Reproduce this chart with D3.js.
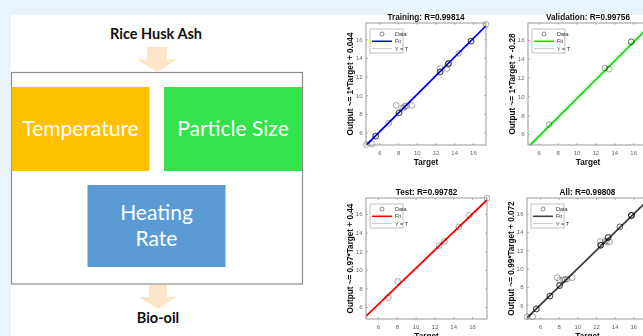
<!DOCTYPE html>
<html>
<head>
<meta charset="utf-8">
<script src="https://cdn.jsdelivr.net/npm/d3@7"></script>
<style>
  html, body { margin: 0; padding: 0; background: #e9f4fc; }
  svg { display: block; }
</style>
</head>
<body>
<svg id="chart" width="643" height="336"></svg>
<script>
// ---- Flow diagram content ----
const sourceLabel = "Rice Husk Ash";
const productLabel = "Bio-oil";
const factorLabels = [["Temperature"], ["Particle Size"], ["Heating", "Rate"]];

// ---- Regression panels ----
const panelNames = ["Training", "Validation", "Test", "All"];
const rValues = ["0.99814", "0.99756", "0.99782", "0.99808"];
const fitSlopes = [1, 1, 0.97, 0.99];
const fitIntercepts = [0.044, -0.28, 0.44, 0.072];
const tickValues = [6, 8, 10, 12, 14, 16];
const legendLabels = ["Data", "Fit", "Y = T"];

const trainingTargets = [4.6, 5.2, 5.6, 5.6, 5.6, 7.0, 7.8, 8.1, 8.1, 8.1, 8.5, 8.7, 8.9, 9.45, 12.5, 12.5, 12.5, 12.5, 13.2, 13.3, 13.4, 13.4, 13.4, 14.5, 15.8, 15.8, 15.8, 17.4];
const trainingOutputs = [4.7, 4.75, 5.6, 5.6, 5.6, 7.0, 8.9, 8.1, 8.1, 8.1, 8.6, 8.8, 8.85, 8.9, 12.85, 12.5, 12.5, 12.5, 12.85, 13.3, 13.4, 13.4, 13.4, 14.5, 15.8, 15.8, 15.8, 17.6];

const validationTargets = [7.1, 13.0, 13.45, 15.8, 15.8];
const validationOutputs = [7.0, 13.0, 12.9, 15.8, 15.8];

const testTargets = [7.1, 8.1, 12.5, 13.05, 14.6, 15.7, 17.6];
const testOutputs = [7.0, 8.75, 12.6, 13.05, 14.6, 15.85, 17.7];

const allTargets = [4.6, 5.2, 5.6, 5.6, 5.6, 7.05, 7.05, 7.05, 7.85, 8.1, 8.1, 8.1, 8.1, 8.5, 8.7, 8.9, 9.45, 12.45, 12.5, 12.5, 12.5, 12.5, 13.0, 13.15, 13.3, 13.3, 13.3, 13.45, 14.55, 14.55, 15.8, 15.8, 15.8, 15.8, 15.8];
const allOutputs = [4.75, 4.75, 5.6, 5.6, 5.6, 7.0, 7.0, 7.0, 9.0, 8.15, 8.15, 8.15, 8.75, 8.8, 8.8, 8.85, 9.0, 12.95, 12.55, 12.55, 12.55, 12.55, 13.0, 12.95, 13.4, 13.4, 13.4, 12.9, 14.55, 14.55, 15.8, 15.8, 15.8, 15.8, 15.8];

const panelTargets = [trainingTargets, validationTargets, testTargets, allTargets];
const panelOutputs = [trainingOutputs, validationOutputs, testOutputs, allOutputs];

// Axis ranges of each regression panel
const panelXDomains = [[4.57, 17.4], [4.87, 17.57], [4.72, 17.6], [4.6, 17.57]];
const panelYDomains = [[4.65, 17.75], [4.83, 17.8], [4.71, 17.72], [4.5, 17.7]];

// ---- Layout & style ----
const panelFrames = [
  { x: 366, y: 23, w: 120, h: 122 },
  { x: 528, y: 23, w: 120, h: 122 },
  { x: 366, y: 198, w: 121, h: 121 },
  { x: 527, y: 198, w: 121, h: 121 }
];
const fitColors = ["#0000ff", "#00e600", "#ff0000", "#404040"];
const factorColors = ["#ffc000", "#33e34b", "#5b9bd5"];
const factorBoxes = [
  { x: 11.5, y: 87, w: 138, h: 84, lines: [136] },
  { x: 164, y: 87, w: 138, h: 84, lines: [136] },
  { x: 87.5, y: 185, w: 138, h: 82, lines: [220, 246] }
];
const arrowColor = "#fde5c9";
const mFont = "'Liberation Sans', Arial, sans-serif";
const dFont = "Lato, 'Open Sans', sans-serif";

const svg = d3.select("#chart");
const defs = svg.append("defs");
defs.append("filter").attr("id", "soft")
  .append("feGaussianBlur").attr("stdDeviation", 0.3);

// white page area
svg.append("rect").attr("x", 11).attr("y", 15).attr("width", 632).attr("height", 321).attr("fill", "#ffffff");

// ---- Flow diagram ----
const diagram = svg.append("g");
diagram.append("rect")
  .attr("x", 11.5).attr("y", 72.5).attr("width", 291).attr("height", 211.5)
  .attr("fill", "#ffffff").attr("stroke", "#8c8c8c").attr("stroke-width", 1.2);

diagram.selectAll("rect.factor")
  .data(factorLabels)
  .join("rect")
  .attr("class", "factor")
  .attr("x", (d, i) => factorBoxes[i].x)
  .attr("y", (d, i) => factorBoxes[i].y)
  .attr("width", (d, i) => factorBoxes[i].w)
  .attr("height", (d, i) => factorBoxes[i].h)
  .attr("fill", (d, i) => factorColors[i]);

factorLabels.forEach((lines, i) => {
  const b = factorBoxes[i];
  lines.forEach((t, j) => {
    diagram.append("text")
      .attr("x", b.x + b.w / 2)
      .attr("y", b.lines[j])
      .attr("text-anchor", "middle")
      .attr("fill", "#ffffff")
      .attr("font-family", dFont)
      .attr("font-size", 21)
      .text(t);
  });
});

function downArrow(cx, top, shaftW, shaftH, headW, headH) {
  const p = d3.path();
  p.moveTo(cx - shaftW / 2, top);
  p.lineTo(cx + shaftW / 2, top);
  p.lineTo(cx + shaftW / 2, top + shaftH);
  p.lineTo(cx + headW / 2, top + shaftH);
  p.lineTo(cx, top + shaftH + headH);
  p.lineTo(cx - headW / 2, top + shaftH);
  p.lineTo(cx - shaftW / 2, top + shaftH);
  p.closePath();
  return p.toString();
}
diagram.append("path").attr("d", downArrow(157, 47, 20, 12.5, 40, 12.5)).attr("fill", arrowColor);
diagram.append("path").attr("d", downArrow(158, 285, 18, 12, 38, 12)).attr("fill", arrowColor);

diagram.append("text")
  .attr("x", 156).attr("y", 39)
  .attr("text-anchor", "middle")
  .attr("font-family", dFont).attr("font-weight", "bold").attr("font-size", 14.5)
  .attr("fill", "#111").text(sourceLabel);
diagram.append("text")
  .attr("x", 158).attr("y", 323)
  .attr("text-anchor", "middle")
  .attr("font-family", dFont).attr("font-weight", "bold").attr("font-size", 14.5)
  .attr("fill", "#111").text(productLabel);

// ---- Regression panels ----
panelNames.forEach((name, i) => {
  const f = panelFrames[i];
  const x = d3.scaleLinear().domain(panelXDomains[i]).range([0, f.w]);
  const y = d3.scaleLinear().domain(panelYDomains[i]).range([f.h, 0]);
  const g = svg.append("g").attr("transform", `translate(${f.x},${f.y})`).attr("filter", "url(#soft)");

  defs.append("clipPath").attr("id", "clip" + i)
    .append("rect").attr("width", f.w).attr("height", f.h);

  g.append("rect").attr("width", f.w).attr("height", f.h).attr("fill", "#ffffff");

  // axes with inward ticks on all four sides
  const tickStyle = sel => {
    sel.select(".domain").remove();
    sel.selectAll(".tick line").attr("stroke", "#8c8c8c").attr("stroke-width", 0.7);
    sel.selectAll(".tick text").attr("fill", "#666").attr("font-family", mFont).attr("font-size", 6);
  };
  g.append("g").attr("transform", `translate(0,${f.h})`)
    .call(d3.axisBottom(x).tickValues(tickValues).tickSizeInner(-1.8).tickSizeOuter(0).tickPadding(5.7))
    .call(tickStyle);
  g.append("g")
    .call(d3.axisLeft(y).tickValues(tickValues).tickSizeInner(-1.8).tickSizeOuter(0).tickPadding(3.5))
    .call(tickStyle);
  g.append("g")
    .call(d3.axisTop(x).tickValues(tickValues).tickSizeInner(-1.8).tickSizeOuter(0).tickFormat(""))
    .call(tickStyle);
  g.append("g").attr("transform", `translate(${f.w},0)`)
    .call(d3.axisRight(y).tickValues(tickValues).tickSizeInner(-1.8).tickSizeOuter(0).tickFormat(""))
    .call(tickStyle);

  const xd = panelXDomains[i];
  const lines = g.append("g").attr("clip-path", `url(#clip${i})`);
  // Y = T reference
  lines.append("line")
    .attr("x1", x(xd[0])).attr("y1", y(xd[0]))
    .attr("x2", x(xd[1])).attr("y2", y(xd[1]))
    .attr("stroke", "#aaa").attr("stroke-width", 0.7).attr("stroke-dasharray", "1,1");
  // fitted line
  const fit = t => fitSlopes[i] * t + fitIntercepts[i];
  lines.append("line")
    .attr("x1", x(xd[0])).attr("y1", y(fit(xd[0])))
    .attr("x2", x(xd[1])).attr("y2", y(fit(xd[1])))
    .attr("stroke", fitColors[i]).attr("stroke-width", 1.8);

  // data circles
  g.append("g").selectAll("circle")
    .data(panelTargets[i].map((t, k) => [t, panelOutputs[i][k]]))
    .join("circle")
    .attr("cx", d => x(d[0])).attr("cy", d => y(d[1]))
    .attr("r", 2.9)
    .attr("fill", "none")
    .attr("stroke", "#000").attr("stroke-opacity", 0.42).attr("stroke-width", 0.8);

  // frame
  g.append("rect").attr("width", f.w).attr("height", f.h)
    .attr("fill", "none").attr("stroke", "#8c8c8c").attr("stroke-width", 0.9);

  // legend
  const lg = g.append("g").attr("transform", "translate(4,6)");
  lg.append("rect").attr("width", 33).attr("height", 24)
    .attr("fill", "#ffffff").attr("stroke", "#a6a6a6").attr("stroke-width", 0.7);
  legendLabels.forEach((lab, k) => {
    const ry = 5 + k * 7.3;
    if (k === 0) {
      lg.append("circle").attr("cx", 12).attr("cy", ry).attr("r", 2)
        .attr("fill", "none").attr("stroke", "#555").attr("stroke-width", 0.7);
    } else if (k === 1) {
      lg.append("line").attr("x1", 2).attr("x2", 22).attr("y1", ry).attr("y2", ry)
        .attr("stroke", fitColors[i]).attr("stroke-width", 1.6);
    } else {
      lg.append("line").attr("x1", 2).attr("x2", 22).attr("y1", ry).attr("y2", ry)
        .attr("stroke", "#b3b3b3").attr("stroke-width", 0.7);
    }
    lg.append("text").attr("x", 25).attr("y", ry + 2)
      .attr("font-family", mFont).attr("font-size", 5.5).attr("fill", "#333")
      .text(lab);
  });

  // title and labels
  g.append("text").attr("x", f.w / 2).attr("y", -3)
    .attr("text-anchor", "middle")
    .attr("font-family", mFont).attr("font-weight", "bold").attr("font-size", 8.2)
    .attr("fill", "#111")
    .text(`${name}: R=${rValues[i]}`);
  g.append("text").attr("x", f.w / 2).attr("y", f.h + 20)
    .attr("text-anchor", "middle")
    .attr("font-family", mFont).attr("font-weight", "bold").attr("font-size", 8.2)
    .attr("fill", "#111")
    .text("Target");
  g.append("text")
    .attr("transform", `translate(-13,${f.h / 2}) rotate(-90)`)
    .attr("text-anchor", "middle")
    .attr("font-family", mFont).attr("font-weight", "bold").attr("font-size", 8.2)
    .attr("fill", "#111")
    .text(`Output ~= ${fitSlopes[i]}*Target + ${fitIntercepts[i]}`);
});
</script>
</body>
</html>
